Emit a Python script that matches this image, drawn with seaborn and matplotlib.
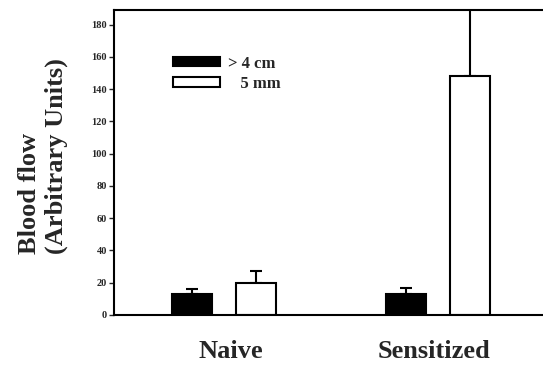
import pandas as pd
import numpy as np
import matplotlib
matplotlib.use('Agg')
import matplotlib.pyplot as plt
import seaborn as sns

groups = ['Naive', 'Sensitized']
sizes = ['> 4 cm', '   5 mm']
black_vals = [13, 13]
white_vals = [20, 148]
black_err = [3, 4]
white_err = [7, 60]

df = pd.DataFrame({
    'grupo': groups * 2,
    'tamanho': [sizes[0]] * 2 + [sizes[1]] * 2,
    'fluxo': black_vals + white_vals,
    'erro': black_err + white_err,
})

sns.set_style('white')
plt.rcParams['font.family'] = ['Liberation Serif', 'DejaVu Serif']
plt.rcParams['font.weight'] = 'bold'

fig = plt.figure(figsize=(5.43, 3.67), dpi=100)
ax = fig.add_axes([114 / 543, 1 - 315 / 367, (543 - 114) / 543, (315 - 10) / 367])

sns.barplot(data=df, x='grupo', y='fluxo', hue='tamanho', order=groups, hue_order=sizes,
            palette=['black', 'white'], edgecolor='black', linewidth=1.5,
            width=0.6, gap=0.37, errorbar=None, ax=ax, zorder=2)

# barras de erro só para cima
for i, p in enumerate(ax.patches[:4]):
    h = p.get_height()
    hue_i = i // 2
    g_i = i % 2
    e = df[(df['tamanho'] == sizes[hue_i]) & (df['grupo'] == groups[g_i])]['erro'].values[0]
    xc = p.get_x() + p.get_width() / 2
    ax.errorbar(xc, h, yerr=[[0], [e]], color='black', capsize=4, capthick=1.5,
                elinewidth=1.5, zorder=1)

ax.set_ylim(0, 189)
ax.set_xlim(-0.514, 1.49)
ax.set_yticks(np.arange(0, 181, 20))
ax.set_xticks([0.033, 0.98], groups)
ax.tick_params(axis='y', labelsize=7.5, length=3.5, width=1, direction='out', left=True, pad=1.5)
ax.tick_params(axis='x', labelsize=19, length=0, pad=18)
for lab in ax.get_yticklabels() + ax.get_xticklabels():
    lab.set_fontweight('bold')
for s in ['left', 'bottom', 'top']:
    ax.spines[s].set_linewidth(1.5)
    ax.spines[s].set_color('black')
ax.spines['right'].set_visible(False)

ax.set_xlabel('')
ax.set_ylabel('Blood flow\n(Arbitrary Units)', fontsize=19, fontweight='bold',
              multialignment='left', linespacing=1.2)
ax.yaxis.set_label_coords(-0.107, 0.521)

leg = ax.legend(loc='upper left', bbox_to_anchor=(0.1375, 0.85), frameon=False,
                borderaxespad=0, borderpad=0,
                handlelength=2.85, handleheight=0.48, handletextpad=0.45,
                labelspacing=0.25, prop={'size': 12, 'weight': 'bold'})

fig.savefig('out.png', dpi=100)
